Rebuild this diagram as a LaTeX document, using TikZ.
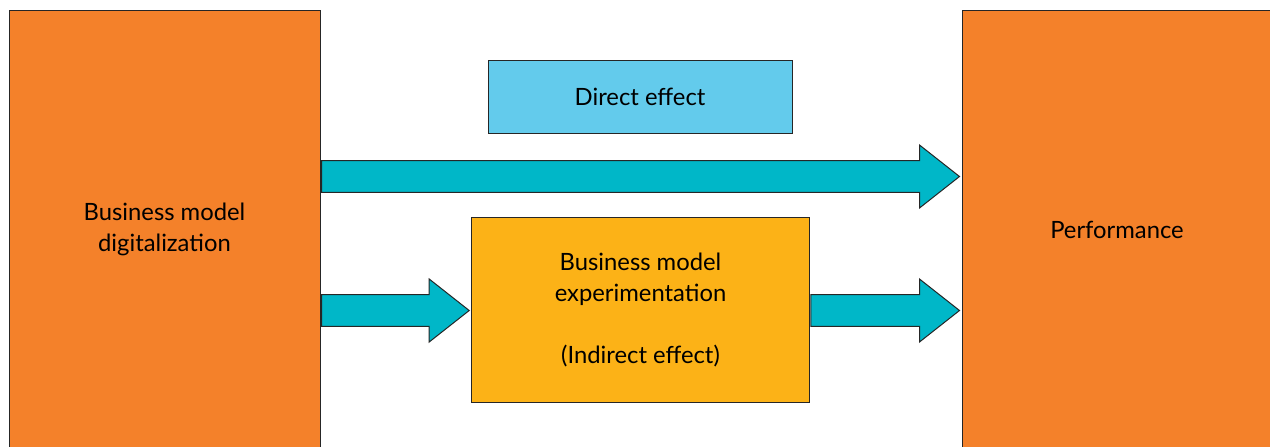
\documentclass[tikz,border=0pt]{standalone}
\usepackage{fontspec}
\setmainfont{Lato}
\usetikzlibrary{calc}
\definecolor{naranja}{RGB}{244,129,42}
\definecolor{turq}{RGB}{0,183,200}
\definecolor{amar}{RGB}{252,178,23}
\definecolor{celeste}{RGB}{99,203,236}
\tikzset{
  caja/.style={draw=black!85, line width=0.5pt, rectangle, align=center, inner sep=0pt, font=\fontsize{11.9}{15.5}\selectfont},
  fat/.style={draw=black!85, fill=turq, line width=0.5pt, line join=miter,
    to path={let \p1=(\tikztostart), \p2=(\tikztotarget) in
      (\x1+0.5pt,\y1+7.9pt) -- (\x2-21pt,\y1+7.9pt) -- (\x2-21pt,\y1+15.75pt) -- (\x2-1pt,\y1)
      -- (\x2-21pt,\y1-15.75pt) -- (\x2-21pt,\y1-7.9pt) -- (\x1+0.5pt,\y1-7.9pt) -- cycle}},
}
\begin{document}
\begin{tikzpicture}[x=0.5pt, y=-0.5pt]
  \useasboundingbox (0,0) rectangle (1270,446);
  \node[caja, fill=naranja, minimum width=155.5pt, minimum height=220pt] (dig) at (164.5,230)
    {\raisebox{-1.5pt}{\begin{tabular}{@{}c@{}}Business model\\ digitalization\end{tabular}}};
  \node[caja, fill=naranja, minimum width=155pt, minimum height=220pt] (perf) at (1117,230)
    {\raisebox{-0.5pt}{Performance}};
  \node[caja, fill=celeste, minimum width=152pt, minimum height=36.5pt] (dir) at (640,96.5)
    {Direct effect};
  \node[caja, fill=amar, minimum width=168.8pt, minimum height=92.6pt] (exp) at (640.5,310.3)
    {Business model\\ experimentation\\[15.5pt] (Indirect effect)};
  \coordinate (alto) at (0,176.5);
  \coordinate (bajo) at (0,310.5);
  \draw[fat] (dig.east |- alto) to (perf.west |- alto);
  \draw[fat] (dig.east |- bajo) to (exp.west |- bajo);
  \draw[fat] (exp.east |- bajo) to (perf.west |- bajo);
\end{tikzpicture}
\end{document}
